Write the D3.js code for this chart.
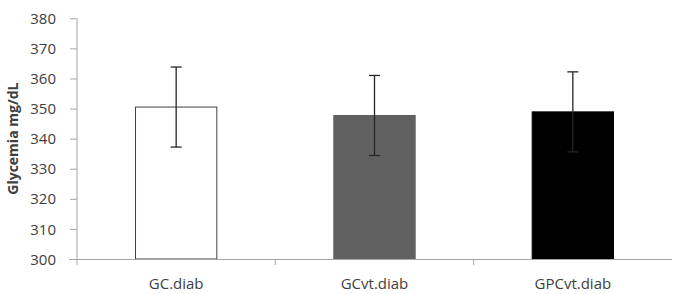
<!DOCTYPE html>
<html><head><meta charset="utf-8">
<script src="https://cdn.jsdelivr.net/npm/d3@7"></script>
<style>body{margin:0;background:#fff}svg{display:block}</style>
</head><body>
<svg id="c" width="675" height="294"></svg>
<script>
const categories = ["GC.diab", "GCvt.diab", "GPCvt.diab"];
const means = [350.5, 347.7, 348.9];
const errors = [13.3, 13.3, 13.3];
const fills = ["#ffffff", "#606060", "#000000"];
const yTicks = [300, 310, 320, 330, 340, 350, 360, 370, 380];

const svg = d3.select("#c");
const font = "'Open Sans', 'Liberation Sans', sans-serif";
const x = d3.scaleBand().domain(categories).range([77, 672]).padding(0);
const y = d3.scaleLinear().domain([300, 380]).range([259, 18.3]);
const axisColor = "#a6a6a6";
const textColor = "#404040";

// y axis
const ya = svg.append("g").attr("transform", "translate(77,0)")
  .call(d3.axisLeft(y).tickValues(yTicks).tickSize(7).tickSizeOuter(0).tickPadding(14));
ya.select(".domain").remove();
ya.selectAll("line").attr("stroke", axisColor);
ya.selectAll("text").attr("fill", textColor).style("font-family", font).style("font-size", "15px")
  .attr("dy", "0.34em");
svg.append("line").attr("x1", 77).attr("x2", 77).attr("y1", y(380)).attr("y2", y(300) + 6)
  .attr("stroke", axisColor);

// bars
const bw = x.step() * 0.41;
svg.selectAll("rect.bar").data(categories).enter().append("rect")
  .attr("x", d => x(d) + x.bandwidth() / 2 - bw / 2)
  .attr("y", (d, i) => y(means[i]))
  .attr("width", bw)
  .attr("height", (d, i) => y(300) - y(means[i]))
  .attr("fill", (d, i) => fills[i])
  .attr("stroke", (d, i) => i === 0 ? "#404040" : fills[i])
  .attr("stroke-width", 1);

// x axis
const xa = svg.append("g").attr("transform", `translate(0,${y(300)})`)
  .call(d3.axisBottom(x).tickSize(0).tickPadding(19));
xa.select(".domain").attr("stroke", axisColor).attr("d", `M69,0.5H672`);
xa.selectAll("text").attr("fill", textColor).style("font-family", font).style("font-size", "15px");
// inner category boundaries ticks
svg.selectAll("line.sep").data(categories.slice(1)).enter().append("line")
  .attr("x1", d => x(d)).attr("x2", d => x(d))
  .attr("y1", y(300)).attr("y2", y(300) + 6).attr("stroke", axisColor);

// error bars
const eb = svg.append("g").attr("stroke", "#262626").attr("stroke-width", 1.3);
categories.forEach((c, i) => {
  const cx = x(c) + x.bandwidth() / 2;
  eb.append("line").attr("x1", cx).attr("x2", cx).attr("y1", y(means[i] + errors[i])).attr("y2", y(means[i] - errors[i]));
  eb.append("line").attr("x1", cx - 5.5).attr("x2", cx + 5.5).attr("y1", y(means[i] + errors[i])).attr("y2", y(means[i] + errors[i]));
  eb.append("line").attr("x1", cx - 5.5).attr("x2", cx + 5.5).attr("y1", y(means[i] - errors[i])).attr("y2", y(means[i] - errors[i]));
});

// y title
svg.append("text").attr("transform", `translate(18,${(y(300) + y(380)) / 2}) rotate(-90)`)
  .attr("text-anchor", "middle").attr("fill", textColor)
  .style("font-family", font).style("font-size", "14px").style("font-weight", "bold")
  .text("Glycemia mg/dL");
</script>
</body></html>
